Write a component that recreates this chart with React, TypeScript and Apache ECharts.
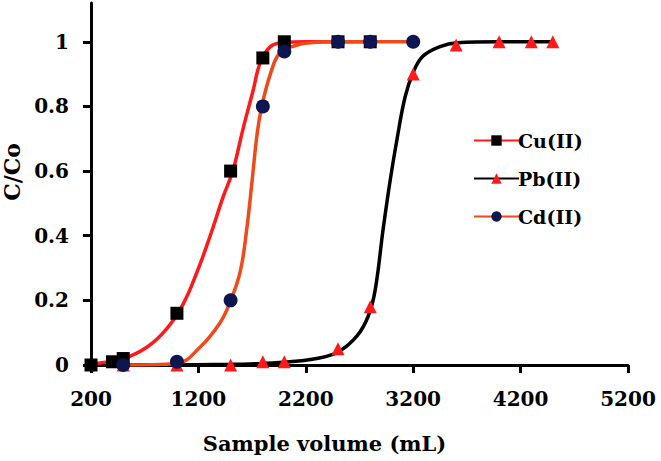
import React, { useEffect, useRef } from "react";
import * as echarts from "echarts";

const X_MIN = 200;
const xTicks = [200, 1200, 2200, 3200, 4200, 5200];

// measured points
const cuX = [200, 400, 500, 1000, 1500, 1800, 2000, 2500, 2800];
const cuY = [0, 0.01, 0.02, 0.16, 0.6, 0.95, 1, 1, 1];

const pbX = [500, 1000, 1500, 1800, 2000, 2500, 2800, 3200, 3600, 4000, 4300, 4500];
const pbY = [0, 0, 0, 0.01, 0.01, 0.05, 0.18, 0.9, 0.99, 1, 1, 1];

const cdX = [500, 1000, 1500, 1800, 2000, 2500, 2800, 3200];
const cdY = [0, 0.01, 0.2, 0.8, 0.97, 1, 1, 1];

// fitted curves
const cuFitX = [200, 500, 720, 900, 1060, 1190, 1310, 1430, 1520, 1615, 1710, 1775, 1870, 1990, 2200, 2800];
const cuFitY = [0.003, 0.02, 0.055, 0.11, 0.19, 0.29, 0.4, 0.52, 0.6, 0.73, 0.85, 0.935, 0.985, 0.998, 1, 1];

const cdFitX = [500, 1000, 1215, 1400, 1495, 1590, 1650, 1700, 1745, 1790, 1870, 1960, 2120, 2240, 2500, 3200];
const cdFitY = [0, 0.005, 0.055, 0.13, 0.195, 0.29, 0.42, 0.57, 0.71, 0.8, 0.9, 0.966, 0.99, 0.997, 1, 1];

const pbFitX = [500, 1500, 1800, 2050, 2300, 2500, 2677, 2780, 2845, 2920, 2985, 3050, 3125, 3200, 3290, 3450, 3610, 4000, 4500];
const pbFitY = [0, 0.002, 0.005, 0.01, 0.02, 0.04, 0.09, 0.15, 0.23, 0.42, 0.57, 0.7, 0.83, 0.905, 0.955, 0.985, 0.997, 1, 1];

const FONT = "'DejaVu Serif', 'Liberation Serif', serif";

function pairs(xs: number[], ys: number[]) {
  return xs.map((x, i) => [x - X_MIN, ys[i]]);
}

export default function App() {
  const ref = useRef<HTMLDivElement>(null);
  useEffect(() => {
    document.body.style.margin = "0";
    const chart = echarts.init(ref.current!, null, { renderer: "svg" });
    const textBase = { fontFamily: FONT, fontWeight: "bold" as const, color: "#000" };
    const curve = (name: string, xs: number[], ys: number[], lineColor: string, symbol: string, symColor: string) => ({
      name,
      type: "line",
      data: pairs(xs, ys),
      smooth: 0.4,
      showSymbol: false,
      symbol,
      symbolSize: 13,
      lineStyle: { color: lineColor, width: 3.5 },
      itemStyle: { color: symColor },
      z: 2,
      silent: true,
    });
    const marks = (name: string, xs: number[], ys: number[], symbol: string, size: number, color: string, z: number) => ({
      name,
      type: "scatter",
      data: pairs(xs, ys),
      symbol,
      symbolSize: size,
      itemStyle: { color, opacity: 1 },
      z,
    });
    chart.setOption({
      animation: false,
      backgroundColor: "#fff",
      grid: { left: 91, right: 33, top: 3, bottom: 96, containLabel: false, outerBoundsMode: "none" },
      legend: {
        orient: "vertical",
        left: 468,
        top: 126,
        itemWidth: 45,
        itemHeight: 13,
        itemGap: 19,
        textStyle: { ...textBase, fontSize: 19, padding: [0, 0, 0, -6] },
        data: ["Cu(II)", "Pb(II)", "Cd(II)"],
      },
      xAxis: {
        type: "value",
        min: 0,
        max: xTicks[xTicks.length - 1] - X_MIN,
        interval: 1000,
        name: "Sample volume (mL)",
        nameLocation: "middle",
        nameGap: 68,
        nameTextStyle: { ...textBase, fontSize: 21, padding: [0, 70, 0, 0] },
        axisLine: { lineStyle: { color: "#000", width: 3 } },
        axisTick: { show: true, inside: false, length: 8, lineStyle: { color: "#000", width: 3 } },
        axisLabel: {
          ...textBase,
          fontSize: 20,
          margin: 24,
          formatter: (v: number) => String(v + X_MIN),
        },
        splitLine: { show: false },
      },
      yAxis: {
        type: "value",
        min: 0,
        max: 1.12,
        interval: 0.2,
        name: "C/Co",
        nameLocation: "middle",
        nameRotate: 90,
        nameGap: 62,
        nameTextStyle: { ...textBase, fontSize: 22, padding: [0, 0, 0, 24] },
        axisLine: { show: true, lineStyle: { color: "#000", width: 3 } },
        axisTick: { show: true, inside: false, length: 8, lineStyle: { color: "#000", width: 3 } },
        axisLabel: {
          ...textBase,
          fontSize: 20,
          margin: 22,
          showMaxLabel: false,
          formatter: (v: number) => (Math.abs(v - 1.12) < 1e-6 ? "" : String(Math.round(v * 10) / 10)),
        },
        splitLine: { show: false },
      },
      series: [
        curve("Cu(II)", cuFitX, cuFitY, "#ff1a1a", "rect", "#000"),
        curve("Pb(II)", pbFitX, pbFitY, "#000", "triangle", "#ff1a1a"),
        curve("Cd(II)", cdFitX, cdFitY, "#f04a1a", "circle", "#0d1650"),
        marks("Pb(II) data", pbX, pbY, "triangle", 13, "#ff1a1a", 3),
        marks("Cu(II) data", cuX, cuY, "rect", 13, "#000", 4),
        marks("Cd(II) data", cdX, cdY, "circle", 14, "#0d1650", 5),
      ],
    });
    return () => chart.dispose();
  }, []);
  return <div ref={ref} style={{ width: 661, height: 461 }} />;
}
